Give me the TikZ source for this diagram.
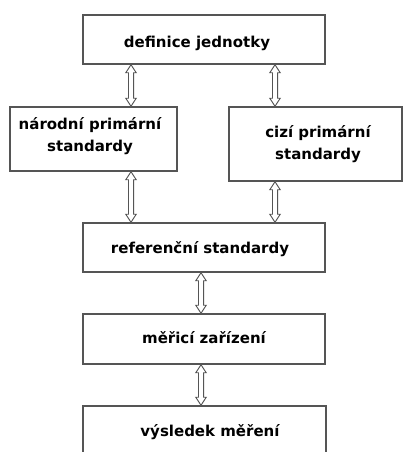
\documentclass[tikz,border=0pt]{standalone}
\usepackage{fontspec}
\setmainfont{DejaVu Sans}
\usetikzlibrary{calc}
\definecolor{edge}{HTML}{555555}
\tikzset{
  box/.style={draw=edge, line width=1.1pt, rectangle, inner sep=0pt},
  lbl/.style={font=\bfseries\fontsize{11.25}{17}\selectfont, align=center, inner sep=0pt, text=black},
  dbl/.style={draw=edge, line width=0.7pt, fill=white, line join=miter},
}
\newcommand\hollowarrow[2]{%
  \path[dbl] let \p1=(#1), \p2=(#2) in
    (\x1,\y1) -- (\x1+3.9pt,\y1-6pt) -- (\x1+1.9pt,\y1-6pt) --
    (\x1+1.9pt,\y2+6pt) -- (\x1+3.9pt,\y2+6pt) -- (\x2,\y2) --
    (\x1-3.9pt,\y2+6pt) -- (\x1-1.9pt,\y2+6pt) --
    (\x1-1.9pt,\y1-6pt) -- (\x1-3.9pt,\y1-6pt) -- cycle;}
\begin{document}
\begin{tikzpicture}[x=0.75pt,y=-0.75pt]
\clip (0,0) rectangle (403,452);
\fill[white] (0,0) rectangle (403,452);
\node[box, minimum width=181.5pt, minimum height=36.75pt] (top) at (204,39.5) {};
\node[box, minimum width=125.25pt, minimum height=48pt] (left) at (93.5,139) {};
\node[box, minimum width=129.75pt, minimum height=55.5pt] (right) at (315.5,144) {};
\node[box, minimum width=181.5pt, minimum height=36.75pt] (ref) at (204,247.5) {};
\node[box, minimum width=181.5pt, minimum height=37.5pt] (meas) at (204,339) {};
\node[box, minimum width=182.25pt, minimum height=55.5pt] (res) at (204.5,443) {};

\node[lbl] (ttop) at (197,43) {definice jednotky};
\node[lbl] (tleft) at (90,136) {národní primární\\standardy};
\node[lbl] (tright) at (318,144) {cizí primární\\standardy};
\node[lbl] (tref) at (200,249) {referenční standardy};
\node[lbl] (tmeas) at (204,338) {měřicí zařízení};
\node[lbl] (tres) at (210,432) {výsledek měření};

\coordinate (xl) at (131,0);
\coordinate (xr) at (275,0);
\coordinate (xc) at (201,0);
\hollowarrow{top.south -| xl}{left.north -| xl}
\hollowarrow{left.south -| xl}{ref.north -| xl}
\hollowarrow{top.south -| xr}{right.north -| xr}
\hollowarrow{right.south -| xr}{ref.north -| xr}
\hollowarrow{ref.south -| xc}{meas.north -| xc}
\hollowarrow{meas.south -| xc}{res.north -| xc}
\end{tikzpicture}
\end{document}
